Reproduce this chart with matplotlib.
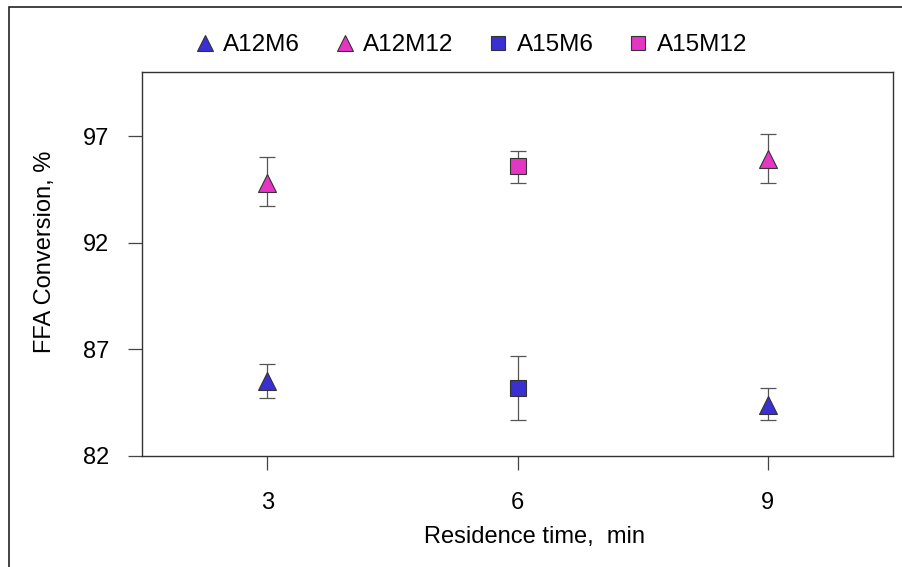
import matplotlib
matplotlib.use("Agg")
import matplotlib.pyplot as plt
from matplotlib.patches import Rectangle

plt.rcParams['font.family'] = ['Liberation Sans', 'DejaVu Sans']

series = ["A12M6", "A12M12", "A15M6", "A15M12"]
x_a12m6 = [3, 9]
y_a12m6 = [85.5, 84.4]
lo_a12m6 = [84.7, 83.7]
hi_a12m6 = [86.3, 85.2]

x_a12m12 = [3, 9]
y_a12m12 = [94.8, 95.9]
lo_a12m12 = [93.7, 94.8]
hi_a12m12 = [96.0, 97.1]

x_a15m6 = [6]
y_a15m6 = [85.2]
lo_a15m6 = [83.7]
hi_a15m6 = [86.7]

x_a15m12 = [6]
y_a15m12 = [95.6]
lo_a15m12 = [94.8]
hi_a15m12 = [96.3]

xticks = [3, 6, 9]
yticks = [82, 87, 92, 97]

blue = "#3a2fd0"
pink = "#e535c3"

fig = plt.figure(figsize=(9.02, 5.67), dpi=100)
ax = fig.add_axes([142/902, 1 - 456/567, (893-142)/902, (456-72)/567])

def plot(xs, ys, lo, hi, marker, color, ms, label):
    yerr = [[y - l for y, l in zip(ys, lo)], [h - y for y, h in zip(ys, hi)]]
    ax.errorbar(xs, ys, yerr=yerr, fmt="none", ecolor="#555555", elinewidth=0.9,
                capsize=6, capthick=0.9, zorder=2)
    ax.plot(xs, ys, linestyle="none", marker=marker, markersize=ms,
            markerfacecolor=color, markeredgecolor="#333333", markeredgewidth=0.8,
            label=label, zorder=3)

plot(x_a12m6, y_a12m6, lo_a12m6, hi_a12m6, "^", blue, 13, series[0])
plot(x_a12m12, y_a12m12, lo_a12m12, hi_a12m12, "^", pink, 13, series[1])
plot(x_a15m6, y_a15m6, lo_a15m6, hi_a15m6, "s", blue, 11, series[2])
plot(x_a15m12, y_a15m12, lo_a15m12, hi_a15m12, "s", pink, 11, series[3])

ax.set_xlim(1.5, 10.5)
ax.set_ylim(82, 100)
ax.set_xticks(xticks)
ax.set_yticks(yticks)
ax.tick_params(labelsize=17, direction="out", length=10, width=0.9, color="#444444")
ax.tick_params(axis="y", pad=13.5)
ax.tick_params(axis="x", pad=16)
for s in ax.spines.values():
    s.set_linewidth(1.0)
    s.set_color("#333333")
ax.set_xlabel("Residence time,  min", fontsize=17)
ax.xaxis.set_label_coords((535 - 142) / 751, (456 - 526) / 384)
ax.set_ylabel("FFA Conversion, %", fontsize=17)
ax.yaxis.set_label_coords((56 - 142) / 751, (456 - 252) / 384)

leg = fig.legend(loc="center", bbox_to_anchor=(468/902, 1 - 45/567), ncol=4,
                 frameon=False, fontsize=17.5, handletextpad=0.1, columnspacing=1.2,
                 markerscale=0.9, handlelength=1.3)

fig.patches.append(Rectangle((9/902, -0.05), 1.2, 1 - 7/567 + 0.05,
                             transform=fig.transFigure, fill=False,
                             edgecolor="#222222", linewidth=1.2))

fig.savefig("out.png", dpi=100)
